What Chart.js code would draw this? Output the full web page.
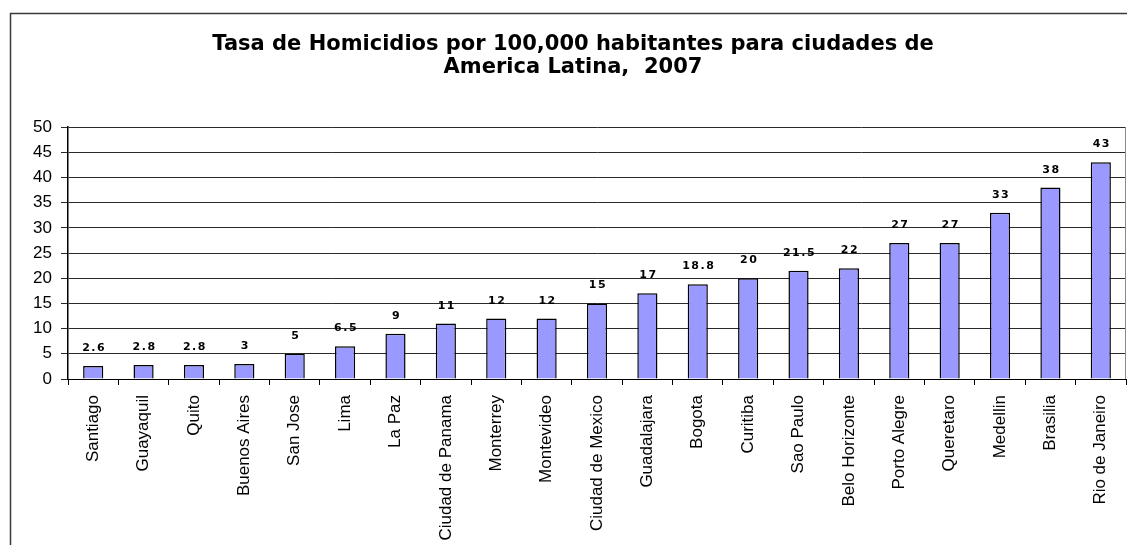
<!DOCTYPE html>
<html>
<head>
<meta charset="utf-8">
<script src="https://cdn.jsdelivr.net/npm/chart.js@4/dist/chart.umd.min.js"></script>
<style>
  html, body { margin: 0; padding: 0; background: #fff; }
  #wrap { width: 1127px; height: 545px; position: relative; }
</style>
</head>
<body>
<div id="wrap"><canvas id="chart"></canvas></div>
<script>
// Tasa de homicidios, ciudades de America Latina 2007

const cities = [
  'Santiago', 'Guayaquil', 'Quito', 'Buenos Aires', 'San Jose', 'Lima', 'La Paz',
  'Ciudad de Panama', 'Monterrey', 'Montevideo', 'Ciudad de Mexico', 'Guadalajara',
  'Bogota', 'Curitiba', 'Sao Paulo', 'Belo Horizonte', 'Porto Alegre', 'Queretaro',
  'Medellin', 'Brasilia', 'Rio de Janeiro'
];
const rates = [2.6, 2.8, 2.8, 3, 5, 6.5, 9, 11, 12, 12, 15, 17, 18.8, 20, 21.5, 22, 27, 27, 33, 38, 43];
const titleLines = ['Tasa de Homicidios por 100,000 habitantes para ciudades de', 'America Latina,  2007'];
const yMin = 0;
const yMax = 50;
const yStep = 5;

// outer frame of the chart object (continues past the right / bottom edge)
const outerFrame = {
  id: 'outerFrame',
  beforeDraw(chart) {
    const { ctx } = chart;
    ctx.save();
    ctx.strokeStyle = '#3a3a3a';
    ctx.lineWidth = 1.5;
    ctx.strokeRect(10.5, 13.5, 1300, 700);
    ctx.restore();
  }
};

// grey right edge of the plot area
const plotEdge = {
  id: 'plotEdge',
  afterDraw(chart) {
    const { ctx, chartArea } = chart;
    ctx.save();
    ctx.strokeStyle = '#8a8a8a';
    ctx.lineWidth = 1;
    ctx.beginPath();
    ctx.moveTo(chartArea.right - 0.5, chartArea.top);
    ctx.lineTo(chartArea.right - 0.5, chartArea.bottom);
    ctx.stroke();
    ctx.restore();
  }
};

const barValueLabels = {
  id: 'barValueLabels',
  afterDatasetsDraw(chart) {
    const { ctx } = chart;
    const meta = chart.getDatasetMeta(0);
    ctx.save();
    ctx.font = "bold 11px 'DejaVu Sans'";
    ctx.letterSpacing = '1.5px';
    ctx.textAlign = 'center';
    ctx.textBaseline = 'alphabetic';
    ctx.fillStyle = '#000';
    meta.data.forEach((bar, i) => {
      ctx.fillText(String(rates[i]), bar.x + 1, bar.y - 15);
    });
    ctx.restore();
  }
};

new Chart(document.getElementById('chart'), {
  type: 'bar',
  data: {
    labels: cities,
    datasets: [{
      data: rates,
      backgroundColor: '#9999ff',
      borderColor: '#000',
      borderWidth: 1.5,
      barPercentage: 0.4,
      categoryPercentage: 1
    }]
  },
  options: {
    responsive: true,
    maintainAspectRatio: false,
    animation: false,
    layout: { padding: { left: 20, right: 1, top: 0, bottom: 0 } },
    plugins: {
      legend: { display: false },
      tooltip: { enabled: false },
      title: {
        display: true,
        text: titleLines,
        color: '#000',
        font: { family: "'DejaVu Sans'", size: 21, weight: 'bold', lineHeight: 1.05 },
        padding: { top: 34, bottom: 49 }
      }
    },
    scales: {
      x: {
        afterFit: scale => {
          scale.height = 166;
          scale.paddingLeft = 0;
          scale.paddingRight = 0;
        },
        grid: {
          offset: true,
          drawOnChartArea: false,
          drawTicks: true,
          tickLength: 6,
          color: '#000'
        },
        border: { color: '#000', width: 1 },
        ticks: {
          color: '#000',
          font: { family: "'Liberation Sans', Arial", size: 17 },
          minRotation: 90,
          maxRotation: 90,
          autoSkip: false,
          padding: 10
        }
      },
      y: {
        min: yMin,
        max: yMax,
        afterFit: scale => { scale.width = 48; },
        grid: {
          color: '#2a2a2a',
          lineWidth: 1,
          tickLength: 7
        },
        border: { color: '#000', width: 1.5 },
        ticks: {
          stepSize: yStep,
          color: '#000',
          font: { family: "'Liberation Sans', Arial", size: 17 },
          padding: 9
        }
      }
    }
  },
  plugins: [outerFrame, plotEdge, barValueLabels]
});
</script>
</body>
</html>
